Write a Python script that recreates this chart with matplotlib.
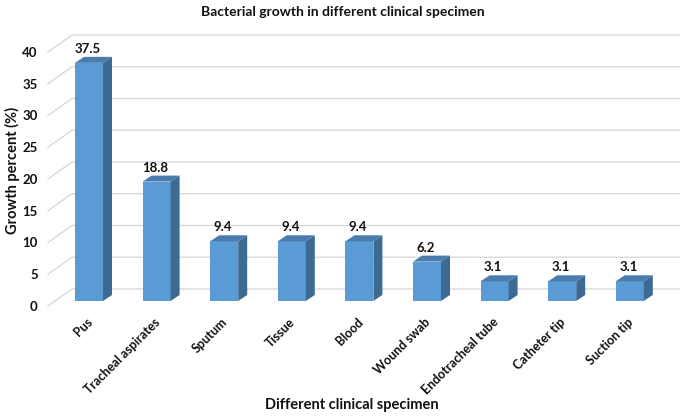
import matplotlib
matplotlib.use("Agg")
import matplotlib.pyplot as plt
from matplotlib.patches import Polygon

categories = ["Pus", "Tracheal aspirates", "Sputum", "Tissue", "Blood",
              "Wound swab", "Endotracheal tube", "Catheter tip", "Suction tip"]
values = [37.5, 18.8, 9.4, 9.4, 9.4, 6.2, 3.1, 3.1, 3.1]
yticks = [0, 5, 10, 15, 20, 25, 30, 35, 40]
title = "Bacterial growth in different clinical specimen"
xlabel = "Different clinical specimen"
ylabel = "Growth percent (%)"

plt.rcParams['font.family'] = ['Lato', 'DejaVu Sans']
plt.rcParams['font.weight'] = 'bold'

W_px, H_px = 685, 418
fig = plt.figure(figsize=(W_px / 100, H_px / 100), dpi=100)

# pixel geometry of the plot frame
x0_px, x1_px = 38.3, 680.5
y0_px, y1_px = 310.5, 31.1
ax = fig.add_axes([x0_px / W_px, 1 - y0_px / H_px,
                   (x1_px - x0_px) / W_px, (y0_px - y1_px) / H_px])
ax.set_xlim(-0.75, 8.75)
ax.set_ylim(-1.5, 42.5)
ax.axis('off')

# scale: data units per pixel
cx = (8.75 + 0.75) / (x1_px - x0_px)
cy = (42.5 + 1.5) / (y0_px - y1_px)

front_col = '#5B9BD5'
side_col = '#3D6A93'
top_col = '#4A7CAE'
grid_col = '#D9D9D9'
txt_col = '#111111'

# walls / gridlines (3D perspective)
wall_front_x, wall_back_x = -0.607, -0.251
wall_front_dy, wall_back_dy = -5 * cy, 12 * cy
for t in yticks:
    ax.plot([wall_front_x, wall_back_x, 8.73],
            [t + wall_front_dy, t + wall_back_dy, t + wall_back_dy],
            color=grid_col, lw=1.0, zorder=1, clip_on=False)
    ax.text(-0.76, t - 6 * cy, str(t), ha='right', va='center',
            fontsize=9.5, fontweight='bold', color=txt_col, clip_on=False)

# 3D bars
hw = 14 * cx
ddx, ddy = 9 * cx, 6 * cy
for i, v in enumerate(values):
    l, r = i - hw, i + hw
    front = Polygon([(l, 0), (r, 0), (r, v), (l, v)], closed=True,
                    facecolor=front_col, edgecolor='none', zorder=3)
    side = Polygon([(r, 0), (r + ddx, ddy), (r + ddx, v + ddy), (r, v)],
                   closed=True, facecolor=side_col, edgecolor='none', zorder=3)
    top = Polygon([(l, v), (r, v), (r + ddx, v + ddy), (l + ddx, v + ddy)],
                  closed=True, facecolor=top_col, edgecolor='none', zorder=3)
    for p in (front, side, top):
        ax.add_patch(p)
    ax.text(i - 0.02, v + ddy + 2 * cy, f"{v:.1f}", ha='center', va='bottom',
            fontsize=9.5, fontweight='bold', color=txt_col, zorder=4)
    ax.text(i - 0.04, -15 * cy, categories[i], rotation=45, ha='right',
            va='top', rotation_mode='anchor', fontsize=9, fontweight='bold',
            color=txt_col, clip_on=False)

fig.text(0.5, 1 - 12 / H_px, title, ha='center', va='center',
         fontsize=10, fontweight='bold', color=txt_col)
fig.text(352 / W_px, 1 - 405 / H_px, xlabel, ha='center', va='center',
         fontsize=10.5, fontweight='bold', color=txt_col)
fig.text(12 / W_px, 1 - 170 / H_px, ylabel, ha='center', va='center',
         rotation=90, fontsize=10.5, fontweight='bold', color=txt_col)

fig.savefig("out.png", dpi=100, facecolor='white')
